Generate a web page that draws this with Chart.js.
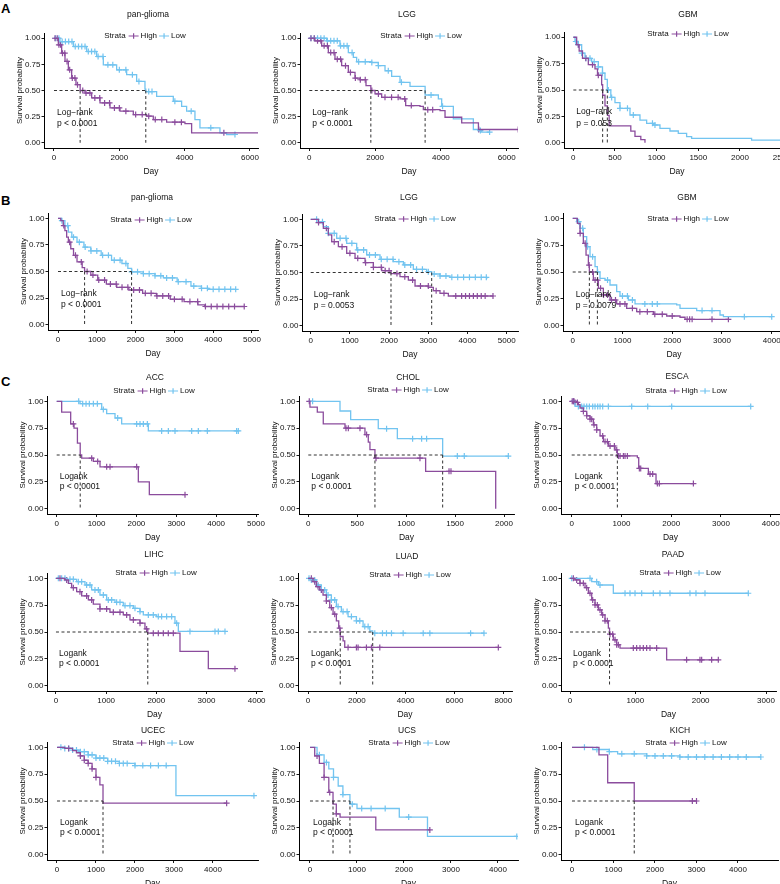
<!DOCTYPE html>
<html>
<head>
<meta charset="utf-8">
<script src="https://cdn.jsdelivr.net/npm/chart.js@4.4.0/dist/chart.umd.min.js"></script>
<style>
  html, body { margin: 0; padding: 0; background: #fff; overflow: hidden; }
  #fig { position: relative; width: 780px; height: 884px; overflow: hidden; }
  #fig canvas { position: absolute; }
  .tag { position: absolute; font: bold 13px "Liberation Sans", Arial, sans-serif; line-height: 13px; color: #000; }
</style>
</head>
<body>
<div id="fig">
  <div class="tag" style="left:1px;top:2px">A</div>
  <div class="tag" style="left:1px;top:194px">B</div>
  <div class="tag" style="left:1px;top:375px">C</div>
</div>
<script>
// --- Data ---
const panelTitles = ['pan-glioma', 'LGG', 'GBM', 'pan-glioma', 'LGG', 'GBM',
    'ACC', 'CHOL', 'ESCA', 'LIHC', 'LUAD', 'PAAD', 'UCEC', 'UCS', 'KICH'];
const testNames = ['Log\u2212rank', 'Log\u2212rank', 'Log\u2212rank', 'Log\u2212rank', 'Log\u2212rank', 'Log\u2212rank',
    'Logank', 'Logank', 'Logank', 'Logank', 'Logank', 'Logank', 'Logank', 'Logank', 'Logank'];
const pValues = ['p < 0.0001', 'p < 0.0001', 'p = 0.053', 'p < 0.0001', 'p = 0.0053', 'p = 0.0079',
    'p < 0.0001', 'p < 0.0001', 'p < 0.0001', 'p < 0.0001', 'p < 0.0001', 'p < 0.0001',
    'p < 0.0001', 'p < 0.0001', 'p < 0.0001'];
const survTicks = [0, 0.25, 0.5, 0.75, 1];
const dayTicks = [
    [0, 2000, 4000, 6000], [0, 2000, 4000, 6000], [0, 500, 1000, 1500, 2000, 2500],
    [0, 1000, 2000, 3000, 4000, 5000], [0, 1000, 2000, 3000, 4000, 5000], [0, 1000, 2000, 3000, 4000],
    [0, 1000, 2000, 3000, 4000, 5000], [0, 500, 1000, 1500, 2000], [0, 1000, 2000, 3000, 4000],
    [0, 1000, 2000, 3000, 4000], [0, 2000, 4000, 6000, 8000], [0, 1000, 2000, 3000],
    [0, 1000, 2000, 3000, 4000], [0, 1000, 2000, 3000, 4000], [0, 1000, 2000, 3000, 4000]
];
const dayLimits = [
    [-306, 6245], [-283, 6343], [-112, 2601],
    [-258, 5155], [-222, 5288], [-195, 4267],
    [-243, 5050], [-95, 2102], [-215, 4187],
    [-179, 4107], [-410, 8355], [-138, 3153],
    [-256, 5154], [-234, 4426], [-265, 4964]
];

// step points: survival after the drop at each day
const highDays = [
    [0, 133, 235, 337, 439, 541, 673, 800, 949, 1153, 1408, 1714, 2020, 2428, 2836, 3040, 3448, 4009, 4213, 6300],
    [0, 172, 375, 578, 780, 983, 1186, 1389, 1541, 1723, 1870, 1997, 2199, 2757, 2929, 3365, 3466, 3973, 4125, 4632, 5140, 6400],
    [0, 40, 70, 110, 180, 260, 290, 340, 352, 380, 410, 430, 690, 740, 810, 860],
    [0, 71, 134, 178, 223, 267, 329, 400, 490, 623, 685, 846, 1024, 1246, 1513, 1825, 2181, 2537, 2893, 3249, 3605, 3783, 4806],
    [0, 196, 323, 450, 536, 706, 918, 1131, 1386, 1598, 1811, 2048, 2278, 2491, 2661, 3001, 3128, 3298, 3511, 4658],
    [0, 94, 147, 214, 268, 315, 335, 415, 516, 616, 750, 884, 1085, 1286, 1621, 1889, 2157, 2258, 3129],
    [0, 125, 351, 435, 520, 590, 627, 920, 1087, 2048, 2324, 3219],
    [0, 17, 92, 153, 375, 579, 613, 630, 681, 1199, 1915],
    [0, 67, 134, 168, 235, 302, 369, 436, 503, 570, 637, 737, 871, 918, 1320, 1347, 1541, 1695, 2446],
    [0, 179, 246, 312, 412, 512, 645, 744, 877, 1076, 1342, 1475, 1675, 1774, 1830, 2472, 3037, 3568],
    [0, 205, 342, 479, 615, 752, 889, 1026, 1162, 1258, 1320, 1436, 1504, 7795],
    [0, 77, 153, 230, 281, 332, 383, 434, 485, 536, 587, 605, 663, 714, 765, 1479, 2270],
    [0, 200, 400, 500, 600, 700, 800, 900, 1000, 1100, 1180, 4350],
    [0, 100, 200, 300, 400, 490, 560, 640, 1400, 2550],
    [0, 650, 860, 1500, 3000]
];
const highSurv = [
    [1, 0.937, 0.857, 0.778, 0.698, 0.619, 0.556, 0.5, 0.476, 0.429, 0.381, 0.333, 0.302, 0.27, 0.254, 0.222, 0.197, 0.184, 0.095, 0.095],
    [1, 0.975, 0.927, 0.863, 0.8, 0.737, 0.673, 0.619, 0.603, 0.546, 0.5, 0.467, 0.435, 0.419, 0.356, 0.349, 0.317, 0.308, 0.244, 0.19, 0.127, 0.127],
    [1, 0.93, 0.87, 0.8, 0.74, 0.7, 0.64, 0.55, 0.45, 0.35, 0.26, 0.16, 0.11, 0.06, 0.03, 0],
    [1, 0.978, 0.932, 0.885, 0.823, 0.776, 0.714, 0.652, 0.59, 0.537, 0.5, 0.466, 0.419, 0.382, 0.351, 0.326, 0.295, 0.27, 0.239, 0.217, 0.186, 0.171, 0.171],
    [1, 0.969, 0.915, 0.853, 0.79, 0.743, 0.68, 0.633, 0.592, 0.549, 0.517, 0.49, 0.461, 0.429, 0.373, 0.36, 0.329, 0.304, 0.279, 0.279],
    [1, 0.953, 0.86, 0.767, 0.658, 0.565, 0.5, 0.425, 0.348, 0.286, 0.239, 0.202, 0.161, 0.13, 0.106, 0.09, 0.078, 0.059, 0.059],
    [1, 0.9, 0.79, 0.75, 0.61, 0.5, 0.47, 0.44, 0.39, 0.25, 0.13, 0.13],
    [1, 0.947, 0.9, 0.79, 0.75, 0.69, 0.62, 0.55, 0.47, 0.348, 0],
    [1, 0.99, 0.969, 0.938, 0.906, 0.866, 0.834, 0.781, 0.734, 0.678, 0.625, 0.584, 0.547, 0.491, 0.475, 0.375, 0.322, 0.234, 0.234],
    [1, 0.985, 0.954, 0.913, 0.876, 0.836, 0.799, 0.759, 0.715, 0.684, 0.659, 0.613, 0.582, 0.529, 0.489, 0.319, 0.158, 0.158],
    [1, 0.969, 0.923, 0.892, 0.845, 0.789, 0.728, 0.666, 0.604, 0.536, 0.458, 0.418, 0.356, 0.356],
    [1, 0.985, 0.954, 0.913, 0.861, 0.799, 0.752, 0.706, 0.659, 0.604, 0.536, 0.48, 0.427, 0.381, 0.35, 0.241, 0.241],
    [1, 0.99, 0.97, 0.95, 0.92, 0.88, 0.85, 0.8, 0.72, 0.65, 0.48, 0.48],
    [1, 0.92, 0.85, 0.72, 0.58, 0.47, 0.38, 0.35, 0.23, 0.23],
    [1, 0.93, 0.67, 0.5, 0.5]
];
const lowDays = [
    [0, 184, 592, 1000, 1306, 1510, 1918, 2224, 2530, 2785, 2810, 3142, 3652, 3907, 4060, 4315, 4468, 5080, 5284, 5540],
    [0, 527, 932, 1186, 1338, 1439, 1895, 2098, 2301, 2503, 2757, 3061, 3520, 3922, 4023, 4378, 4986, 5138, 5240, 5493],
    [0, 20, 60, 100, 140, 220, 300, 350, 380, 408, 450, 500, 560, 680, 800, 880, 960, 1040, 1160, 1260, 1360, 1420, 2140, 2650],
    [0, 89, 178, 267, 356, 490, 668, 846, 1113, 1380, 1647, 1800, 1896, 2200, 2500, 2715, 3071, 3427, 3694, 3872, 4584],
    [0, 196, 323, 450, 663, 918, 1173, 1428, 1768, 2108, 2363, 2618, 2958, 3086, 3298, 3553, 4488],
    [0, 80, 147, 214, 281, 348, 449, 496, 549, 650, 750, 884, 951, 1119, 1253, 2090, 2157, 2492, 2961, 3029, 4000],
    [0, 585, 1129, 1254, 1463, 1630, 2299, 4556],
    [0, 324, 433, 715, 910, 1373, 2044],
    [0, 67, 3598],
    [0, 213, 412, 578, 711, 877, 1010, 1176, 1342, 1542, 1675, 1741, 2007, 2372, 2439, 3369],
    [0, 137, 342, 547, 752, 957, 1162, 1367, 1641, 1983, 2256, 2530, 2650, 7207],
    [0, 332, 434, 663, 2729],
    [0, 200, 400, 600, 800, 1000, 1300, 1600, 2000, 3050, 5050],
    [0, 150, 300, 400, 500, 600, 700, 850, 1000, 1900, 2500, 4400],
    [0, 500, 900, 1100, 1800, 2600, 4550]
];
const lowSurv = [
    [1, 0.968, 0.921, 0.873, 0.825, 0.746, 0.698, 0.651, 0.587, 0.514, 0.49, 0.444, 0.397, 0.349, 0.302, 0.222, 0.143, 0.095, 0.079, 0.079],
    [1, 0.975, 0.927, 0.863, 0.816, 0.775, 0.768, 0.737, 0.689, 0.635, 0.578, 0.54, 0.457, 0.419, 0.349, 0.229, 0.127, 0.117, 0.102, 0.102],
    [1, 0.96, 0.93, 0.85, 0.8, 0.77, 0.72, 0.66, 0.6, 0.5, 0.43, 0.38, 0.326, 0.263, 0.215, 0.184, 0.168, 0.136, 0.111, 0.089, 0.057, 0.041, 0.025, 0.025],
    [1, 0.978, 0.932, 0.87, 0.823, 0.776, 0.73, 0.693, 0.652, 0.606, 0.575, 0.53, 0.497, 0.48, 0.46, 0.44, 0.404, 0.363, 0.342, 0.332, 0.332],
    [1, 0.978, 0.931, 0.868, 0.821, 0.774, 0.712, 0.665, 0.624, 0.602, 0.571, 0.53, 0.508, 0.486, 0.467, 0.455, 0.439],
    [1, 0.969, 0.907, 0.829, 0.736, 0.643, 0.55, 0.5, 0.441, 0.425, 0.379, 0.317, 0.276, 0.239, 0.202, 0.193, 0.161, 0.14, 0.099, 0.084, 0.084],
    [1, 0.978, 0.925, 0.885, 0.845, 0.79, 0.724, 0.724],
    [1, 0.91, 0.83, 0.745, 0.652, 0.49, 0.49],
    [1, 0.953, 0.953],
    [1, 0.991, 0.969, 0.938, 0.892, 0.845, 0.799, 0.777, 0.746, 0.721, 0.69, 0.659, 0.644, 0.582, 0.505, 0.505],
    [1, 0.985, 0.938, 0.892, 0.845, 0.799, 0.737, 0.69, 0.644, 0.604, 0.551, 0.511, 0.489, 0.489],
    [1, 0.969, 0.938, 0.861, 0.861],
    [1, 0.99, 0.975, 0.96, 0.93, 0.9, 0.87, 0.85, 0.83, 0.55, 0.55],
    [1, 0.93, 0.86, 0.8, 0.72, 0.64, 0.56, 0.47, 0.43, 0.35, 0.17, 0.17],
    [1, 0.98, 0.96, 0.94, 0.92, 0.91, 0.91]
];
// censored times (days)
const highCensor = [
    [30, 100, 150, 200, 260, 330, 400, 480, 560, 640, 720, 880, 980, 1100, 1250, 1400, 1550, 1700, 1850, 2000, 2200, 2500, 2700, 2900, 3100, 3300, 3700, 3900, 5200],
    [50, 150, 250, 350, 450, 550, 650, 750, 850, 950, 1100, 1250, 1400, 1550, 1700, 1900, 2100, 2300, 2500, 2700, 2900, 3100, 3600, 3750, 5150, 6350],
    [60, 150, 230, 300],
    [150, 300, 450, 600, 750, 900, 1050, 1200, 1350, 1500, 1650, 1800, 1950, 2100, 2250, 2400, 2550, 2700, 2850, 3000, 3200, 3400, 3600, 3800, 3950, 4100, 4250, 4400, 4550, 4800],
    [200, 400, 600, 800, 1000, 1200, 1400, 1600, 1800, 1900, 2000, 2200, 2400, 2600, 2800, 3000, 3200, 3400, 3700, 3850, 3950, 4050, 4150, 4250, 4350, 4450, 4650],
    [150, 250, 330, 400, 450, 500, 560, 620, 700, 780, 860, 950, 1050, 1200, 1350, 1500, 1650, 1800, 2000, 2300, 2350, 2400, 2800, 3129],
    [418, 878, 1028, 1254, 1338, 2006, 3219],
    [10, 385, 409, 528, 596, 692, 1141, 1438, 1458],
    [10, 34, 47, 67, 114, 235, 302, 369, 402, 449, 503, 623, 670, 717, 771, 858, 905, 938, 972, 1039, 1072, 1119, 1360, 1387, 1575, 1628, 1722, 1762, 2446],
    [80, 213, 346, 478, 611, 711, 877, 1010, 1143, 1276, 1409, 1542, 1675, 1807, 1940, 2040, 2140, 2239, 2339, 3568],
    [137, 274, 410, 547, 752, 957, 1094, 1299, 1641, 1983, 2051, 2393, 2598, 2940, 7795],
    [51, 102, 153, 204, 255, 306, 347, 383, 418, 459, 500, 536, 571, 612, 653, 689, 714, 740, 969, 1020, 1071, 1122, 1173, 1224, 1326, 1785, 1989, 2015, 2168, 2270],
    [300, 600, 700, 800, 900, 1000, 4350],
    [150, 300, 420, 560, 2550],
    [2900, 3000]
];
const lowCensor = [
    [50, 150, 250, 350, 450, 550, 650, 750, 850, 950, 1050, 1150, 1250, 1350, 1500, 1650, 1800, 2000, 2200, 2400, 2600, 2900, 3000, 3700, 4200, 4800, 5540],
    [50, 150, 250, 350, 450, 550, 650, 750, 850, 950, 1050, 1150, 1300, 1500, 1700, 1900, 2100, 2400, 2800, 3700, 4050, 5200, 5480],
    [30, 60, 100, 150, 200, 250, 300, 350, 420, 460, 560, 650, 720, 950, 980],
    [100, 250, 400, 550, 700, 850, 1000, 1150, 1300, 1450, 1600, 1750, 1900, 2050, 2200, 2350, 2500, 2650, 2800, 2950, 3100, 3300, 3500, 3700, 3850, 4000, 4150, 4300, 4450, 4580],
    [150, 300, 450, 600, 750, 900, 1050, 1200, 1350, 1500, 1650, 1800, 1950, 2100, 2250, 2400, 2550, 2700, 2850, 3000, 3150, 3300, 3450, 3600, 3750, 3900, 4050, 4200, 4350, 4480],
    [120, 200, 300, 400, 500, 700, 1000, 1100, 1200, 1450, 1600, 1700, 2600, 2800, 3450, 4000],
    [552, 652, 736, 819, 920, 1020, 1170, 1530, 2006, 2090, 2174, 2274, 2633, 2801, 2968, 3386, 3553, 3779, 4514, 4556],
    [44, 800, 1066, 1158, 1209, 1523, 1594, 2044],
    [34, 134, 201, 248, 302, 355, 422, 469, 523, 570, 623, 737, 1206, 1528, 2010, 3598],
    [47, 113, 179, 279, 346, 445, 512, 611, 678, 777, 844, 944, 1043, 1110, 1209, 1276, 1376, 1475, 1575, 1675, 1841, 1940, 2040, 2106, 2206, 2306, 2406, 2671, 3170, 3236, 3369],
    [41, 137, 274, 410, 547, 684, 820, 957, 1094, 1231, 1436, 1600, 1778, 1983, 2120, 2325, 2462, 2735, 3050, 3214, 3419, 3897, 4718, 4991, 6660, 7207],
    [26, 306, 408, 459, 842, 918, 995, 1097, 1275, 1377, 1530, 1836, 1928, 2066, 2729],
    [100, 200, 300, 400, 500, 600, 700, 800, 900, 1000, 1100, 1200, 1300, 1400, 1500, 1600, 1700, 1800, 2000, 2200, 2400, 2600, 2800, 5050],
    [200, 350, 500, 700, 900, 1100, 1300, 1600, 2100, 4400],
    [300, 600, 900, 1200, 1500, 1800, 2000, 2200, 2400, 2600, 2800, 3000, 3200, 3400, 3600, 3800, 4000, 4200, 4550]
];
// median survival [High, Low]
const medianDays = [
    [800, 2810], [1870, 3520], [352, 408],
    [685, 1896], [2048, 3086], [335, 496],
    [590, null], [681, 1373], [918, null],
    [1830, null], [1320, 2650], [605, null],
    [1180, null], [490, 850], [1500, null]
];

// --- Layout (page pixels) ---
const plotBoxes = [
    [44, 33, 258, 148], [300, 33, 518, 148], [564, 32, 790, 148],
    [48, 213, 258, 330], [302, 214, 518, 331], [563, 213, 785, 331],
    [47, 396, 258, 514], [299, 396, 514, 514], [561, 396, 780, 514],
    [47, 573, 262, 691], [298, 573, 512, 691], [561, 573, 776, 691],
    [47, 742, 258, 860], [299, 742, 518, 860], [561, 742, 778, 860]
];
const titlePos = [
    [148, 15], [407, 15], [688, 15],
    [152, 198], [409, 198], [687, 198],
    [155, 378], [408, 378], [677, 377],
    [154, 555], [407, 557], [673, 555],
    [153, 731], [407, 731], [680, 731]
];
const legendPos = [
    [145, 36], [421, 36], [688, 34],
    [151, 220], [415, 219], [688, 219],
    [154, 391], [408, 390], [686, 391],
    [156, 573], [410, 575], [680, 573],
    [153, 743], [409, 743], [686, 743]
];

const FONT = '"Liberation Sans", Arial, Helvetica, sans-serif';
const HIGH_COLOR = '#8b4c9d';
const LOW_COLOR = '#72c4f0';
const DASH_COLOR = '#333';
const TEXT_COLOR = '#111';

Chart.defaults.font.family = FONT;
Chart.defaults.color = TEXT_COLOR;

function survAt(days, surv, t) {
    let s = surv[0];
    for (let k = 0; k < days.length; k++) if (days[k] <= t) s = surv[k];
    return s;
}

function curveSet(days, surv, color) {
    return {
        data: days.map((d, k) => ({ x: d, y: surv[k] })),
        borderColor: color, borderWidth: 1.3, stepped: true,
        pointRadius: 0, fill: false
    };
}

function censorSet(days, surv, times, color) {
    return {
        data: times.map(t => ({ x: t, y: survAt(days, surv, t) })),
        showLine: false, pointStyle: 'cross', pointRadius: 3,
        pointBorderColor: color, pointBorderWidth: 1.2, borderColor: color
    };
}

function dashSet(points) {
    return {
        data: points, borderColor: DASH_COLOR, borderWidth: 1,
        borderDash: [3, 2.5], pointRadius: 0, fill: false
    };
}

// titles, legend and test text
const decor = {
    id: 'decor',
    afterDraw(chart, args, o) {
        const ctx = chart.ctx;
        const xs = chart.scales.x, ys = chart.scales.y;
        ctx.save();
        ctx.fillStyle = TEXT_COLOR;
        ctx.textBaseline = 'middle';

        ctx.font = '8.5px ' + FONT;
        ctx.textAlign = 'center';
        ctx.fillText(o.title, o.title_x, o.title_y);

        // legend: Strata  + High  + Low
        ctx.font = '8px ' + FONT;
        ctx.textAlign = 'left';
        const key = 10;
        const wS = ctx.measureText('Strata').width;
        const wH = ctx.measureText('High').width;
        const wL = ctx.measureText('Low').width;
        const total = wS + 3 + key + 2 + wH + 2 + key + 2 + wL;
        let x = o.legend_x - total / 2;
        const y = o.legend_y;
        ctx.fillText('Strata', x, y);
        x += wS + 3;
        [[HIGH_COLOR, 'High', wH], [LOW_COLOR, 'Low', wL]].forEach(([c, label, w]) => {
            ctx.strokeStyle = c;
            ctx.lineWidth = 1.2;
            ctx.beginPath();
            ctx.moveTo(x, y); ctx.lineTo(x + key, y);
            ctx.moveTo(x + key / 2, y - 2.8); ctx.lineTo(x + key / 2, y + 2.8);
            ctx.stroke();
            x += key + 2;
            ctx.fillText(label, x, y);
            x += w + 2;
        });

        ctx.font = '8.5px ' + FONT;
        const tx = xs.getPixelForValue(0) + 3;
        ctx.fillText(o.test, tx, ys.getPixelForValue(o.levels[0]));
        ctx.fillText(o.p, tx, ys.getPixelForValue(o.levels[1]));
        ctx.restore();
    }
};

const fig = document.getElementById('fig');

panelTitles.forEach((title, i) => {
    const [L, T, R, B] = plotBoxes[i];
    const cl = L - 44, ct = T - 30;
    const canvas = document.createElement('canvas');
    canvas.width = R + 12 - cl;
    canvas.height = B + 30 - ct;
    canvas.style.left = cl + 'px';
    canvas.style.top = ct + 'px';
    fig.appendChild(canvas);

    const datasets = [];
    const med = medianDays[i].filter(m => m != null);
    datasets.push(dashSet([{ x: 0, y: 0.5 }, { x: Math.max(...med), y: 0.5 }]));
    med.forEach(m => datasets.push(dashSet([{ x: m, y: 0.5 }, { x: m, y: 0 }])));
    datasets.push(curveSet(highDays[i], highSurv[i], HIGH_COLOR));
    datasets.push(curveSet(lowDays[i], lowSurv[i], LOW_COLOR));
    datasets.push(censorSet(highDays[i], highSurv[i], highCensor[i], HIGH_COLOR));
    datasets.push(censorSet(lowDays[i], lowSurv[i], lowCensor[i], LOW_COLOR));

    new Chart(canvas, {
        type: 'line',
        data: { datasets },
        plugins: [decor],
        options: {
            responsive: false,
            animation: false,
            devicePixelRatio: 1,
            layout: { padding: { left: 0, top: 30, right: 12, bottom: 0 } },
            plugins: {
                legend: { display: false },
                tooltip: { enabled: false },
                decor: {
                    title,
                    title_x: titlePos[i][0] - cl, title_y: titlePos[i][1] - ct,
                    legend_x: legendPos[i][0] - cl, legend_y: legendPos[i][1] - ct,
                    test: testNames[i], p: pValues[i],
                    levels: i < 6 ? [0.29, 0.185] : [0.30, 0.205]
                }
            },
            scales: {
                x: {
                    type: 'linear',
                    min: dayLimits[i][0], max: dayLimits[i][1],
                    afterBuildTicks: s => { s.ticks = dayTicks[i].map(v => ({ value: v })); },
                    afterFit: s => { s.height = 30; s.paddingLeft = 0; s.paddingRight = 0; },
                    ticks: { font: { size: 8 }, color: TEXT_COLOR, padding: 2, maxRotation: 0, autoSkip: false,
                             callback: v => String(v) },
                    grid: { drawOnChartArea: false, drawTicks: true, tickLength: 3, color: '#000', lineWidth: 0.9 },
                    border: { display: true, color: '#000', width: 1 },
                    title: { display: true, text: 'Day', font: { size: 8.5 }, color: TEXT_COLOR,
                             padding: { top: 0, bottom: 1 } }
                },
                y: {
                    min: -0.05, max: 1.05,
                    afterBuildTicks: s => { s.ticks = survTicks.map(v => ({ value: v })); },
                    afterFit: s => { s.width = 44; s.paddingTop = 0; s.paddingBottom = 0; },
                    ticks: { font: { size: 8 }, color: TEXT_COLOR, padding: 1, callback: v => v.toFixed(2) },
                    grid: { drawOnChartArea: false, drawTicks: true, tickLength: 2.5, color: '#000', lineWidth: 0.9 },
                    border: { display: true, color: '#000', width: 1 },
                    title: { display: true, text: 'Survival probability', font: { size: 8 }, color: TEXT_COLOR,
                             padding: { top: 15, bottom: 0 } }
                }
            }
        }
    });
});
</script>
</body>
</html>
